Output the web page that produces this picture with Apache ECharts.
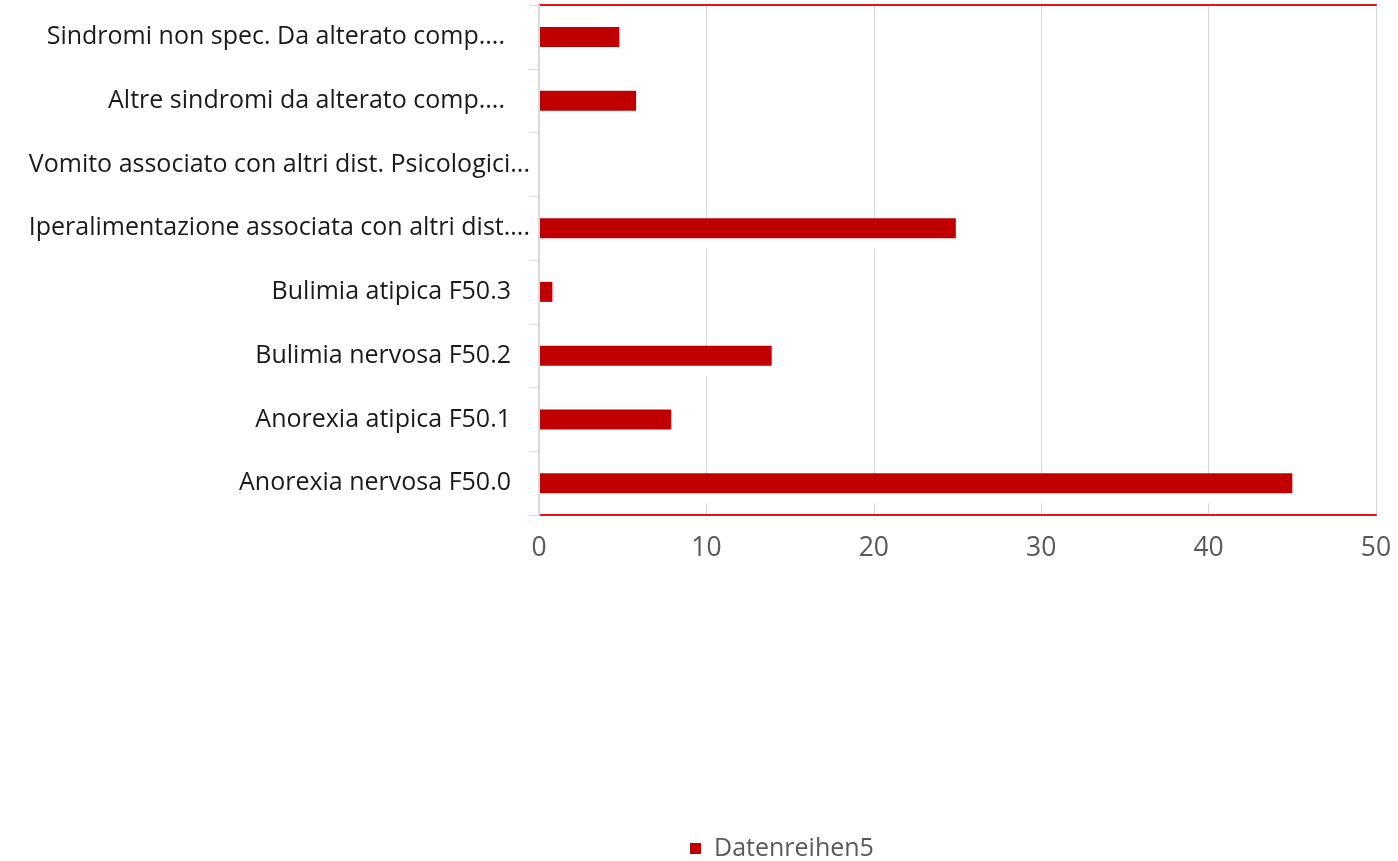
<!DOCTYPE html>
<html>
<head>
<meta charset="utf-8">
<script src="https://cdn.jsdelivr.net/npm/echarts@6/dist/echarts.min.js"></script>
<style>html,body{margin:0;padding:0;background:#fff;}#c{width:1398px;height:861px;}</style>
</head>
<body>
<div id="c"></div>
<script>
const categories = [
  "Sindromi non spec. Da alterato comp....",
  "Altre sindromi da alterato comp....",
  "Vomito associato con altri dist. Psicologici...",
  "Iperalimentazione associata con altri dist....",
  "Bulimia atipica F50.3",
  "Bulimia nervosa F50.2",
  "Anorexia atipica F50.1",
  "Anorexia nervosa F50.0"
];
const values = [4.8, 5.8, 0, 24.9, 0.8, 13.9, 7.9, 45];
const seriesName = "Datenreihen5";
const xTicks = { min: 0, max: 50, interval: 10 };

const chart = echarts.init(document.getElementById('c'), null, { renderer: 'canvas' });
const font = "'Open Sans', sans-serif";
const frameRed = '#e3121b';
const labelStyle = { color: '#1a1a1a', fontSize: 25, fontFamily: font };
chart.setOption({
  animation: false,
  backgroundColor: '#ffffff',
  textStyle: { fontFamily: font },
  grid: {
    left: 539, right: 22, top: 5, bottom: 346,
    show: false
  },
  legend: {
    data: [seriesName],
    top: 831, left: 685,
    itemWidth: 11, itemHeight: 11,
    icon: 'rect',
    textStyle: { color: '#595959', fontSize: 25, fontFamily: font, padding: [0, 0, 0, 8] }
  },
  xAxis: [
    {
      type: 'value',
      min: xTicks.min, max: xTicks.max, interval: xTicks.interval,
      axisLine: { show: true, lineStyle: { color: frameRed, width: 2 } },
      axisTick: { show: false },
      splitLine: { show: true, lineStyle: { color: '#d9d9d9', width: 1 } },
      axisLabel: { color: '#595959', fontSize: 26.5, margin: 20, fontFamily: font }
    },
    {
      type: 'value', position: 'top',
      min: xTicks.min, max: xTicks.max, interval: xTicks.interval,
      axisLine: { show: true, lineStyle: { color: frameRed, width: 2 } },
      axisTick: { show: false }, axisLabel: { show: false }, splitLine: { show: false }
    }
  ],
  yAxis: [
    {
      type: 'category',
      data: categories,
      inverse: true,
      z: 5,
      axisLine: { show: true, lineStyle: { color: '#d9d9d9', width: 2 } },
      axisTick: { show: true, length: 10, lineStyle: { color: '#d9d9d9', width: 1 } },
      axisLabel: {
        margin: 9,
        formatter: function (v, i) {
          if (i === 2 || i === 3) return '{e|' + v + '}';
          if (i === 0 || i === 1) return '{s|' + v + '}';
          return '{n|' + v + '}';
        },
        rich: {
          e: Object.assign({}, labelStyle),
          s: Object.assign({ padding: [0, 25, 0, 0] }, labelStyle),
          n: Object.assign({ padding: [0, 19, 0, 0] }, labelStyle)
        }
      }
    },
    {
      type: 'category', position: 'right',
      data: categories, inverse: true,
      axisLine: { show: true, lineStyle: { color: frameRed, width: 2 } },
      axisTick: { show: false }, axisLabel: { show: false }, splitLine: { show: false }
    }
  ],
  series: [
    {
      name: 'bg',
      type: 'bar',
      data: values,
      barWidth: 30,
      barGap: '-100%',
      itemStyle: { color: '#ffffff' },
      silent: true,
      z: 1
    },
    {
      name: seriesName,
      type: 'bar',
      data: values,
      barWidth: 20,
      itemStyle: { color: '#c00000' },
      z: 2
    }
  ]
});
</script>
</body>
</html>
